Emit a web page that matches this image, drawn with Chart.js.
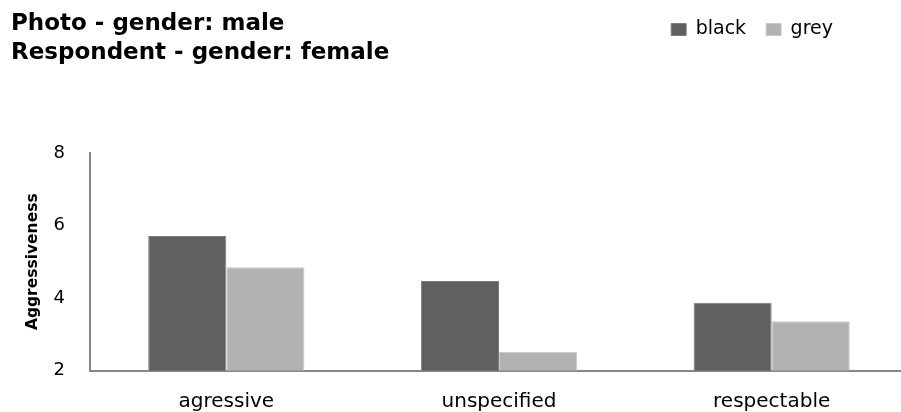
<!DOCTYPE html>
<html>
<head>
<meta charset="utf-8">
<script src="https://cdn.jsdelivr.net/npm/chart.js@4"></script>
<style>
  html, body { margin: 0; padding: 0; background: #fff; overflow: hidden; }
  #wrap { position: relative; width: 910px; height: 412px; }
  #title {
    position: absolute; left: 11px; top: 8px;
    font-family: "DejaVu Sans", sans-serif; font-weight: bold;
    font-size: 23px; line-height: 29px; color: #000; white-space: nowrap;
  }
</style>
</head>
<body>
<div id="wrap">
  <canvas id="c" width="910" height="412"></canvas>
  <div id="title">Photo - gender: male<br>Respondent - gender: female</div>
</div>
<script>
const categories = ["agressive", "unspecified", "respectable"];
const blackValues = [5.71, 4.47, 3.87];
const greyValues = [4.85, 2.51, 3.36];
const yTicks = [2, 4, 6, 8];

const FONT = "'DejaVu Sans', sans-serif";

// Legend: tall box so the plot starts lower, and pulled in from the right edge
const legendLayout = {
  id: 'legendLayout',
  beforeInit(chart) {
    const fit = chart.legend.fit;
    chart.legend.fit = function () {
      fit.call(this);
      this.height = 153;
      if (this.lineWidths && this.lineWidths.length) this.lineWidths[0] += 55;
    };
  }
};

new Chart(document.getElementById('c'), {
  type: 'bar',
  data: {
    labels: categories,
    datasets: [
      { label: 'black', data: blackValues, backgroundColor: '#606060', borderColor: '#7d7d7d', borderWidth: 1 },
      { label: 'grey', data: greyValues, backgroundColor: '#b2b2b2', borderColor: '#cacaca', borderWidth: 1 }
    ]
  },
  options: {
    responsive: false,
    animation: false,
    layout: { padding: { top: 0, right: 2, left: 0, bottom: 0 } },
    datasets: { bar: { categoryPercentage: 0.573, barPercentage: 1.0 } },
    plugins: {
      title: { display: false },
      tooltip: { enabled: false },
      legend: {
        position: 'top',
        align: 'end',
        labels: {
          boxWidth: 15, boxHeight: 12, padding: 20,
          color: '#000',
          font: { family: FONT, size: 19 }
        }
      }
    },
    scales: {
      x: {
        afterFit(axis) { axis.height = 41.5; },
        grid: { display: false, drawTicks: false },
        border: { display: true, color: '#878787', width: 2 },
        ticks: { color: '#000', padding: 19, font: { family: FONT, size: 20 } }
      },
      y: {
        min: 2, max: 8,
        afterBuildTicks(axis) { axis.ticks = yTicks.map(v => ({ value: v })); },
        afterFit(axis) { axis.width = 90; },
        grid: { display: false, drawTicks: false },
        border: { display: true, color: '#878787', width: 2 },
        ticks: { color: '#000', padding: 25, font: { family: FONT, size: 18 } },
        title: {
          display: true, text: 'Aggressiveness', color: '#000',
          font: { family: FONT, size: 15.5, weight: 'bold' },
          padding: { top: 24, bottom: 0 }
        }
      }
    }
  },
  plugins: [legendLayout]
});
</script>
</body>
</html>
